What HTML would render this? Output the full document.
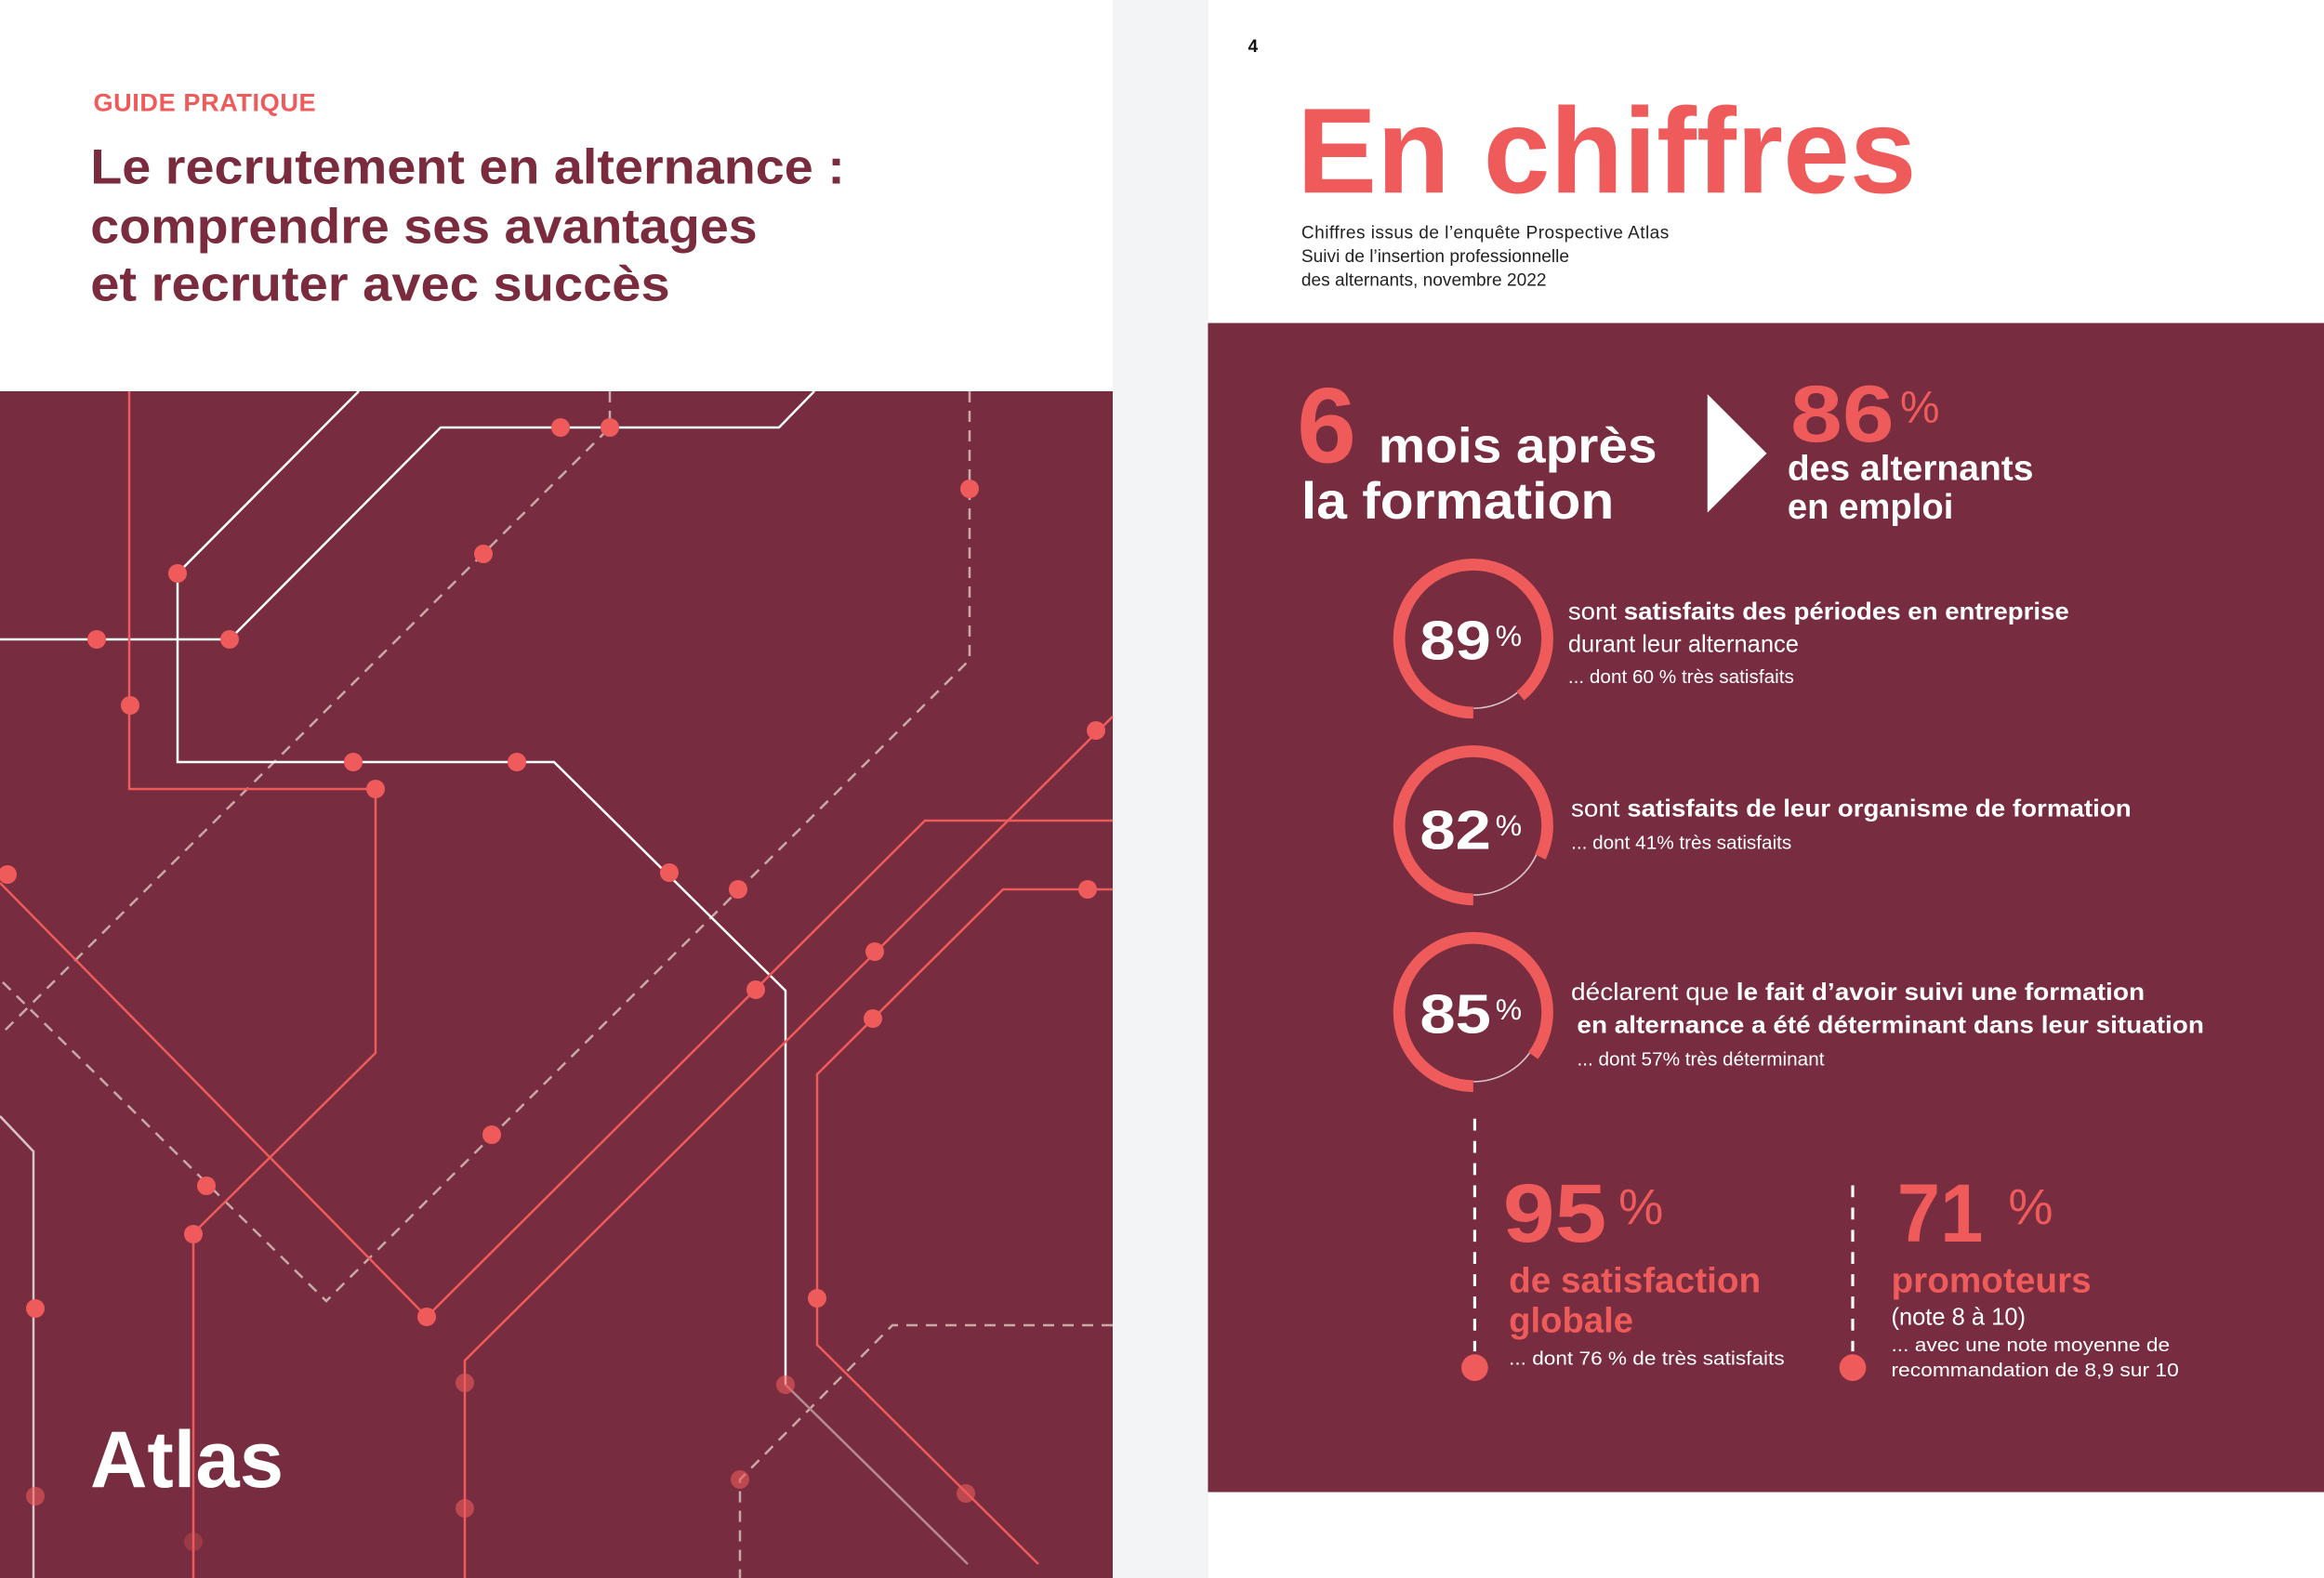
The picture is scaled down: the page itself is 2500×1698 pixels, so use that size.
<!DOCTYPE html>
<html><head><meta charset="utf-8"><style>html,body{margin:0;padding:0;background:#fff}svg{display:block}text{font-family:"Liberation Sans",sans-serif}</style></head>
<body>
<svg width="2500" height="1698" viewBox="0 0 2500 1698" xmlns="http://www.w3.org/2000/svg">
<rect width="2500" height="1698" fill="#fff"/>
<rect x="1197" y="0" width="103" height="1698" fill="#f3f4f6"/>
<rect x="0" y="421" width="1197" height="1277" fill="#772d3f"/>
<g fill="none" stroke-width="2.5">
<g stroke="#c9a9a6" stroke-dasharray="12,9">
<polyline points="656,421 656,460 0,1114"/>
<polyline points="1043,421 1043,710 351,1400 0,1054"/>
<polyline points="1197,1426 960,1426 796,1592 796,1698"/>
</g>
<g stroke="#fff">
<polyline points="386,421 191,617 191,820 596,820 845,1066 845,1490"/>
<polyline points="845,1490 1041,1683" stroke="#b88a92"/>
<polyline points="0,688 247,688 474,460 838,460 876,421"/>
<polyline points="0,1201 36,1239 36,1698" stroke="#d8c4c8"/>
</g>
<g stroke="#ef5a5a">
<polyline points="139,421 139,849 404,849 404,1133 208,1327 208,1698"/>
<polyline points="0,950 459,1417 995,883 1197,883"/>
<polyline points="1197,771 500,1464 500,1698"/>
<polyline points="1197,957 1079,957 879,1156 879,1447 1117,1683"/>
</g>
</g>
<g fill="#ef5a5a">
<circle cx="603" cy="460" r="10"/><circle cx="656" cy="460" r="10"/><circle cx="520" cy="596" r="10"/><circle cx="1043" cy="526" r="10"/><circle cx="191" cy="617" r="10"/><circle cx="104" cy="688" r="10"/><circle cx="247" cy="688" r="10"/><circle cx="140" cy="759" r="10"/><circle cx="380" cy="820" r="10"/><circle cx="556" cy="820" r="10"/><circle cx="404" cy="849" r="10"/><circle cx="8" cy="941" r="10"/><circle cx="720" cy="939" r="10"/><circle cx="794" cy="957" r="10"/><circle cx="1179" cy="786" r="10"/><circle cx="941" cy="1024" r="10"/><circle cx="813" cy="1065" r="10"/><circle cx="939" cy="1096" r="10"/><circle cx="1170" cy="957" r="10"/><circle cx="529" cy="1221" r="10"/><circle cx="222" cy="1276" r="10"/><circle cx="208" cy="1328" r="10"/><circle cx="38" cy="1408" r="10"/><circle cx="459" cy="1417" r="10"/><circle cx="879" cy="1397" r="10"/>
<g opacity="0.6"><circle cx="500" cy="1488" r="10"/><circle cx="845" cy="1490" r="10"/><circle cx="796" cy="1592" r="10"/><circle cx="1039" cy="1607" r="10"/><circle cx="38" cy="1610" r="10"/><circle cx="500" cy="1623" r="10"/></g>
<circle cx="208" cy="1659" r="10" opacity="0.3"/>
</g>
<text x="97" y="1600" font-size="86" font-weight="bold" fill="#fff" textLength="208" lengthAdjust="spacingAndGlyphs">Atlas</text>

<g transform="scale(1.5944)">
<text x="63" y="75" font-size="17" font-weight="bold" fill="#ef5a5a" textLength="150">GUIDE PRATIQUE</text>
<g font-size="33" font-weight="bold" fill="#7a2c3e">
<text x="61" y="124" textLength="509" lengthAdjust="spacingAndGlyphs">Le recrutement en alternance :</text>
<text x="61" y="164" textLength="450" lengthAdjust="spacingAndGlyphs">comprendre ses avantages</text>
<text x="61" y="203" textLength="391" lengthAdjust="spacingAndGlyphs">et recruter avec succès</text>
</g>
<text x="842" y="35" font-size="12" font-weight="bold" fill="#111">4</text>
<text x="875" y="130" font-size="82" font-weight="bold" fill="#ef5a5a" textLength="418" lengthAdjust="spacingAndGlyphs">En chiffres</text>
<g font-size="12" fill="#222">
<text x="878" y="161" textLength="248">Chiffres issus de l’enquête Prospective Atlas</text>
<text x="878" y="177">Suivi de l’insertion professionnelle</text>
<text x="878" y="193">des alternants, novembre 2022</text>
</g>
<rect x="815" y="218" width="753" height="789" fill="#772d3f"/>
<text x="875" y="312" font-size="72" font-weight="bold" fill="#ef5a5a">6</text>
<text x="930" y="312" font-size="33" font-weight="bold" fill="#fff" textLength="188" lengthAdjust="spacingAndGlyphs">mois après</text>
<text x="878" y="350" font-size="35" font-weight="bold" fill="#fff" textLength="211" lengthAdjust="spacingAndGlyphs">la formation</text>
<polygon points="1152,266 1192,306 1152,346" fill="#fff"/>
<text x="1208" y="298" font-size="54" font-weight="bold" fill="#ef5a5a" textLength="70" lengthAdjust="spacingAndGlyphs">86</text>
<text x="1282" y="285" font-size="30" fill="#ef5a5a">%</text>
<text x="1206" y="324" font-size="24" font-weight="bold" fill="#fff" textLength="166" lengthAdjust="spacingAndGlyphs">des alternants</text>
<text x="1206" y="350" font-size="24" font-weight="bold" fill="#fff">en emploi</text>

<g fill="none">
<g transform="translate(994,431) rotate(90)"><circle r="50" stroke="#ef5a5a" stroke-width="8" stroke-dasharray="279.6,400"/><circle r="47" stroke="#d8c4c8" stroke-width="1" stroke-dasharray="0,263 32,400"/></g>
<g transform="translate(994,557) rotate(90)"><circle r="47" stroke="#d8c4c8" stroke-width="1" stroke-dasharray="0,242 53,400"/><circle r="50" stroke="#ef5a5a" stroke-width="8" stroke-dasharray="257.6,400"/></g>
<g transform="translate(994,683) rotate(90)"><circle r="47" stroke="#d8c4c8" stroke-width="1" stroke-dasharray="0,251 44,400"/><circle r="50" stroke="#ef5a5a" stroke-width="8" stroke-dasharray="267,400"/></g>
</g>
<g fill="#fff" font-weight="bold" font-size="37">
<text x="958" y="445" textLength="48" lengthAdjust="spacingAndGlyphs">89</text><text x="958" y="573" textLength="48" lengthAdjust="spacingAndGlyphs">82</text><text x="958" y="697" textLength="48" lengthAdjust="spacingAndGlyphs">85</text>
</g>
<g fill="#fff" font-size="20">
<text x="1009" y="436">%</text><text x="1009" y="564">%</text><text x="1009" y="688">%</text>
</g>
<g fill="#fff">
<text x="1058" y="418" font-size="16" textLength="338" lengthAdjust="spacingAndGlyphs">sont <tspan font-weight="bold">satisfaits des périodes en entreprise</tspan></text>
<text x="1058" y="440" font-size="16">durant leur alternance</text>
<text x="1058" y="461" font-size="13">... dont 60 % très satisfaits</text>
<text x="1060" y="551" font-size="16" textLength="378" lengthAdjust="spacingAndGlyphs">sont <tspan font-weight="bold">satisfaits de leur organisme de formation</tspan></text>
<text x="1060" y="573" font-size="13">... dont 41% très satisfaits</text>
<text x="1060" y="675" font-size="16" textLength="387" lengthAdjust="spacingAndGlyphs">déclarent que <tspan font-weight="bold">le fait d’avoir suivi une formation</tspan></text>
<text x="1064" y="697" font-size="16" font-weight="bold" textLength="423" lengthAdjust="spacingAndGlyphs">en alternance a été déterminant dans leur situation</text>
<text x="1064" y="719" font-size="13">... dont 57% très déterminant</text>
</g>
<line x1="995" y1="755" x2="995" y2="912" stroke="#fff" stroke-width="2" stroke-dasharray="8,7"/>
<circle cx="995" cy="923" r="9" fill="#ef5a5a"/>
<line x1="1250" y1="800" x2="1250" y2="912" stroke="#fff" stroke-width="2" stroke-dasharray="8,7"/>
<circle cx="1250" cy="923" r="9" fill="#ef5a5a"/>
<g fill="#ef5a5a" font-weight="bold">
<text x="1014" y="838" font-size="56" textLength="70" lengthAdjust="spacingAndGlyphs">95</text>
<text x="1280" y="838" font-size="56" textLength="58" lengthAdjust="spacingAndGlyphs">71</text>
<text x="1018" y="872" font-size="24" textLength="170" lengthAdjust="spacingAndGlyphs">de satisfaction</text>
<text x="1018" y="899" font-size="24">globale</text>
<text x="1276" y="872" font-size="24" textLength="135" lengthAdjust="spacingAndGlyphs">promoteurs</text>
</g>
<g fill="#ef5a5a" font-size="34">
<text x="1092" y="826">%</text><text x="1355" y="826">%</text>
</g>
<g fill="#fff">
<text x="1018" y="921" font-size="13" textLength="186" lengthAdjust="spacingAndGlyphs">... dont 76 % de très satisfaits</text>
<text x="1276" y="894" font-size="16">(note 8 à 10)</text>
<text x="1276" y="912" font-size="13" textLength="188" lengthAdjust="spacingAndGlyphs">... avec une note moyenne de</text>
<text x="1276" y="929" font-size="13" textLength="194" lengthAdjust="spacingAndGlyphs">recommandation de 8,9 sur 10</text>
</g>
</g>
</svg>
</body></html>
